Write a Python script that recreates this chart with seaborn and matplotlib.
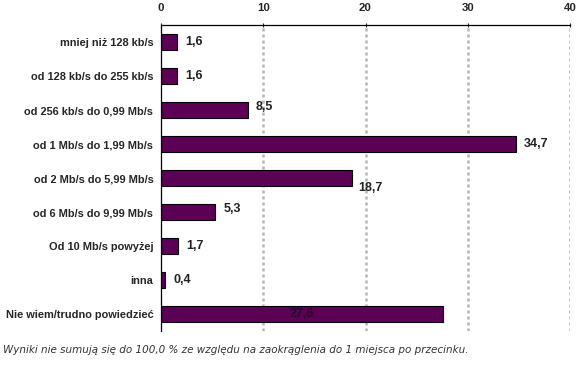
import matplotlib
matplotlib.use("Agg")
import matplotlib.pyplot as plt
import seaborn as sns
import pandas as pd
import numpy as np

categories = [
    "mniej niż 128 kb/s",
    "od 128 kb/s do 255 kb/s",
    "od 256 kb/s do 0,99 Mb/s",
    "od 1 Mb/s do 1,99 Mb/s",
    "od 2 Mb/s do 5,99 Mb/s",
    "od 6 Mb/s do 9,99 Mb/s",
    "Od 10 Mb/s powyżej",
    "inna",
    "Nie wiem/trudno powiedzieć",
]
values = [1.6, 1.6, 8.5, 34.7, 18.7, 5.3, 1.7, 0.4, 27.6]
x_ticks = [0, 10, 20, 30, 40]
footnote = "Wyniki nie sumują się do 100,0 % ze względu na zaokrąglenia do 1 miejsca po przecinku."

sns.set_style("white")
plt.rcParams["font.family"] = ["Liberation Sans", "DejaVu Sans"]

df = pd.DataFrame({"cat": categories, "val": values})

fig = plt.figure(figsize=(5.8, 3.65), dpi=100)
ax = fig.add_axes([161 / 580, 1 - 331 / 365, 409 / 580, 306 / 365])

sns.barplot(data=df, x="val", y="cat", orient="h", color="#5c0055",
            edgecolor="black", linewidth=0.8, width=0.45, ax=ax, saturation=1)

ax.set_xlim(0, 40)
ax.set_ylim(len(categories) - 0.5, -0.5)
ax.set_xticks(x_ticks)
ax.set_xticklabels([str(t) for t in x_ticks], fontsize=8.2, fontweight="bold")
ax.xaxis.tick_top()
ax.tick_params(axis="x", length=3, width=0.8, direction="inout", pad=7)
ax.set_xlabel("")
ax.set_ylabel("")

# y ticks at category boundaries, labels at centres
ax.set_yticks(np.arange(len(categories)))
ax.set_yticklabels(categories, fontsize=7.95, fontweight="bold")
ax.tick_params(axis="y", length=0, pad=5.5)
ax.set_yticks(np.arange(len(categories) + 1) - 0.5, minor=True)
ax.tick_params(axis="y", which="minor", length=3, width=0.8, direction="out")

for x in x_ticks[1:]:
    ax.axvline(x, color="#b4b4b4", linestyle=(0, (1.2, 1.2)), linewidth=1.8, zorder=0)

for s in ["right", "bottom"]:
    ax.spines[s].set_visible(False)
for s in ["top", "left"]:
    ax.spines[s].set_color("black")
    ax.spines[s].set_linewidth(0.9)

for i, v in enumerate(values):
    label = f"{v:.1f}".replace(".", ",")
    if i == len(values) - 1:
        ax.text(v - 15.0, i, label, va="center", ha="left", fontsize=9,
                fontweight="bold", color="#2a0025")
    elif i == 4:
        ax.text(v + 0.6, i + 0.3, label, va="center", ha="left", fontsize=9,
                fontweight="bold", color="#222222")
    elif i in (2, 5):
        ax.text(v + 0.8, i - 0.09, label, va="center", ha="left", fontsize=9,
                fontweight="bold", color="#222222")
    else:
        ax.text(v + 0.8, i, label, va="center", ha="left", fontsize=9,
                fontweight="bold", color="#222222")

fig.text(3 / 580, 1 - 350 / 365, footnote, ha="left", va="center", fontsize=7.5,
         style="italic", color="#333333", family=["DejaVu Sans"])

fig.savefig("out.png", dpi=100)
